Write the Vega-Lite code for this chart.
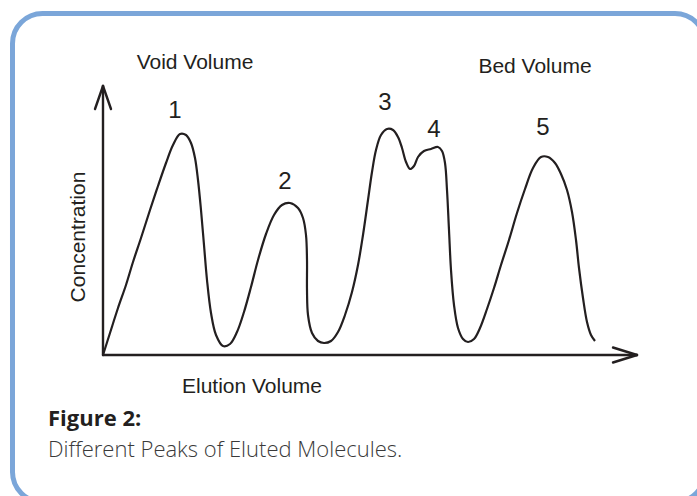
{
  "$schema": "https://vega.github.io/schema/vega-lite/v6.json",
  "width": 697,
  "height": 496,
  "padding": 0,
  "autosize": {"type": "none"},
  "background": "white",
  "config": {"view": {"stroke": null}},
  "datasets": {
    "curve": [
      {"i":0,"x":0,"y":0},{"i":1,"x":1.4,"y":4.4},{"i":2,"x":3.0,"y":9.4},{"i":3,"x":4.6,"y":14.0},
      {"i":4,"x":6.0,"y":18.6},{"i":5,"x":7.6,"y":23.4},{"i":6,"x":9.4,"y":29.0},{"i":7,"x":11.0,"y":33.8},
      {"i":8,"x":12.6,"y":38.4},{"i":9,"x":14.0,"y":42.0},{"i":10,"x":15.4,"y":44.2},{"i":11,"x":16.6,"y":44.0},
      {"i":12,"x":17.6,"y":42.4},{"i":13,"x":18.4,"y":39.4},{"i":14,"x":19.0,"y":35.0},{"i":15,"x":19.6,"y":29.0},
      {"i":16,"x":20.2,"y":22.0},{"i":17,"x":20.8,"y":15.0},{"i":18,"x":21.6,"y":8.4},{"i":19,"x":22.6,"y":4.0},
      {"i":20,"x":24.0,"y":1.8},{"i":21,"x":25.4,"y":2.2},{"i":22,"x":26.8,"y":4.6},{"i":23,"x":28.2,"y":8.6},
      {"i":24,"x":29.6,"y":13.6},{"i":25,"x":31.0,"y":19.0},{"i":26,"x":32.6,"y":24.2},{"i":27,"x":34.2,"y":28.0},
      {"i":28,"x":35.8,"y":30.0},{"i":29,"x":37.4,"y":30.4},{"i":30,"x":39.0,"y":29.4},{"i":31,"x":40.0,"y":27.4},
      {"i":32,"x":40.6,"y":24.0},{"i":33,"x":40.8,"y":19.0},{"i":34,"x":40.8,"y":13.0},{"i":35,"x":41.0,"y":8.0},
      {"i":36,"x":41.8,"y":4.4},{"i":37,"x":43.0,"y":2.8},{"i":38,"x":44.2,"y":2.4},{"i":39,"x":45.6,"y":2.8},
      {"i":40,"x":47.0,"y":4.6},{"i":41,"x":48.4,"y":8.0},{"i":42,"x":49.8,"y":12.6},{"i":43,"x":51.0,"y":18.0},
      {"i":44,"x":52.0,"y":24.0},{"i":45,"x":53.0,"y":31.0},{"i":46,"x":53.8,"y":36.6},{"i":47,"x":54.6,"y":41.0},
      {"i":48,"x":55.6,"y":44.0},{"i":49,"x":56.8,"y":45.2},{"i":50,"x":58.0,"y":45.0},{"i":51,"x":59.0,"y":43.6},
      {"i":52,"x":59.8,"y":41.4},{"i":53,"x":60.6,"y":38.6},{"i":54,"x":61.4,"y":37.2},{"i":55,"x":62.2,"y":37.8},
      {"i":56,"x":63.0,"y":39.6},{"i":57,"x":64.2,"y":40.8},{"i":58,"x":65.6,"y":41.2},{"i":59,"x":67.0,"y":41.6},
      {"i":60,"x":67.8,"y":40.8},{"i":61,"x":68.4,"y":38.4},{"i":62,"x":68.8,"y":33.0},{"i":63,"x":69.2,"y":25.0},
      {"i":64,"x":69.6,"y":17.0},{"i":65,"x":70.2,"y":10.0},{"i":66,"x":71.0,"y":5.4},{"i":67,"x":72.0,"y":3.2},
      {"i":68,"x":73.0,"y":2.6},{"i":69,"x":74.2,"y":3.2},{"i":70,"x":75.4,"y":5.4},{"i":71,"x":76.8,"y":9.2},
      {"i":72,"x":78.2,"y":13.4},{"i":73,"x":79.6,"y":18.0},{"i":74,"x":81.2,"y":23.0},{"i":75,"x":82.8,"y":28.4},
      {"i":76,"x":84.4,"y":33.2},{"i":77,"x":86.0,"y":37.4},{"i":78,"x":87.6,"y":39.6},{"i":79,"x":89.0,"y":39.6},
      {"i":80,"x":90.4,"y":38.4},{"i":81,"x":91.6,"y":36.2},{"i":82,"x":92.8,"y":33.0},{"i":83,"x":93.8,"y":28.6},
      {"i":84,"x":94.6,"y":23.0},{"i":85,"x":95.2,"y":17.4},{"i":86,"x":96.0,"y":11.4},{"i":87,"x":96.8,"y":6.6},
      {"i":88,"x":97.6,"y":4.0},{"i":89,"x":98.4,"y":2.8}
    ],
    "axes": [
      {"x":0,"y":0,"x2":0,"y2":53.8},
      {"x":-1.6,"y":49.2,"x2":0,"y2":53.8},
      {"x":1.6,"y":49.2,"x2":0,"y2":53.8},
      {"x":0,"y":0,"x2":106.8,"y2":0},
      {"x":102.0,"y":1.5,"x2":106.8,"y2":0},
      {"x":102.0,"y":-1.5,"x2":106.8,"y2":0}
    ],
    "peaks": [
      {"label":"1","x":14.4,"y":47.4},
      {"label":"2","x":36.4,"y":33.2},
      {"label":"3","x":56.4,"y":49.0},
      {"label":"4","x":66.2,"y":43.6},
      {"label":"5","x":88.0,"y":44.0}
    ],
    "markers": [
      {"label":"Void Volume","x":18.4,"y":57.2},
      {"label":"Bed Volume","x":86.4,"y":56.5},
      {"label":"Elution Volume","x":29.8,"y":-7.6}
    ]
  },
  "layer": [
    {
      "data": {"values": [{}]},
      "mark": {"type": "rect", "cornerRadius": 30, "fill": "transparent", "stroke": "#7ba6d9", "strokeWidth": 5},
      "encoding": {
        "x": {"datum": -18.1, "type": "quantitative", "scale": {"domain": [-20.6, 118.8], "nice": false, "zero": false}, "axis": null},
        "x2": {"datum": 120.4},
        "y": {"datum": 68.3, "type": "quantitative", "scale": {"domain": [-28.2, 71], "nice": false, "zero": false}, "axis": null},
        "y2": {"datum": -29.4}
      }
    },
    {
      "data": {"name": "axes"},
      "mark": {"type": "rule", "color": "#231f20", "strokeWidth": 2.4, "strokeCap": "round"},
      "encoding": {
        "x": {"field": "x", "type": "quantitative", "scale": {"domain": [-20.6, 118.8], "nice": false, "zero": false}, "axis": null},
        "x2": {"field": "x2"},
        "y": {"field": "y", "type": "quantitative", "scale": {"domain": [-28.2, 71], "nice": false, "zero": false}, "axis": null},
        "y2": {"field": "y2"}
      }
    },
    {
      "data": {"name": "curve"},
      "mark": {"type": "line", "interpolate": "catmull-rom", "color": "#231f20", "strokeWidth": 2.2},
      "encoding": {
        "x": {"field": "x", "type": "quantitative", "scale": {"domain": [-20.6, 118.8], "nice": false, "zero": false}, "axis": null},
        "y": {"field": "y", "type": "quantitative", "scale": {"domain": [-28.2, 71], "nice": false, "zero": false}, "axis": null},
        "order": {"field": "i", "type": "quantitative"}
      }
    },
    {
      "data": {"name": "peaks"},
      "mark": {"type": "text", "font": "Liberation Sans", "fontSize": 24, "color": "#231f20", "align": "center", "baseline": "alphabetic"},
      "encoding": {
        "x": {"field": "x", "type": "quantitative", "scale": {"domain": [-20.6, 118.8], "nice": false, "zero": false}, "axis": null},
        "y": {"field": "y", "type": "quantitative", "scale": {"domain": [-28.2, 71], "nice": false, "zero": false}, "axis": null},
        "text": {"field": "label"}
      }
    },
    {
      "data": {"name": "markers"},
      "mark": {"type": "text", "font": "Liberation Sans", "fontSize": 21, "color": "#231f20", "align": "center", "baseline": "alphabetic", "letterSpacing": -0.2},
      "encoding": {
        "x": {"field": "x", "type": "quantitative", "scale": {"domain": [-20.6, 118.8], "nice": false, "zero": false}, "axis": null},
        "y": {"field": "y", "type": "quantitative", "scale": {"domain": [-28.2, 71], "nice": false, "zero": false}, "axis": null},
        "text": {"field": "label"}
      }
    },
    {
      "data": {"values": [{"label": "Concentration", "x": -3.6, "y": 23.6}]},
      "mark": {"type": "text", "font": "Liberation Sans", "fontSize": 21, "color": "#231f20", "align": "center", "baseline": "alphabetic", "angle": 270, "letterSpacing": -0.2},
      "encoding": {
        "x": {"field": "x", "type": "quantitative", "scale": {"domain": [-20.6, 118.8], "nice": false, "zero": false}, "axis": null},
        "y": {"field": "y", "type": "quantitative", "scale": {"domain": [-28.2, 71], "nice": false, "zero": false}, "axis": null},
        "text": {"field": "label"}
      }
    },
    {
      "data": {"values": [{"label": "Figure 2:", "x": -11, "y": -14.1}]},
      "mark": {"type": "text", "font": "Open Sans", "fontSize": 22, "fontWeight": "bold", "color": "#231f20", "align": "left", "baseline": "alphabetic", "letterSpacing": 0.2},
      "encoding": {
        "x": {"field": "x", "type": "quantitative", "scale": {"domain": [-20.6, 118.8], "nice": false, "zero": false}, "axis": null},
        "y": {"field": "y", "type": "quantitative", "scale": {"domain": [-28.2, 71], "nice": false, "zero": false}, "axis": null},
        "text": {"field": "label"}
      }
    },
    {
      "data": {"values": [{"label": "Different Peaks of Eluted Molecules.", "x": -11, "y": -20.4}]},
      "mark": {"type": "text", "font": "Open Sans", "fontSize": 22, "fontWeight": 300, "color": "#3a3a3a", "align": "left", "baseline": "alphabetic", "letterSpacing": 0.6},
      "encoding": {
        "x": {"field": "x", "type": "quantitative", "scale": {"domain": [-20.6, 118.8], "nice": false, "zero": false}, "axis": null},
        "y": {"field": "y", "type": "quantitative", "scale": {"domain": [-28.2, 71], "nice": false, "zero": false}, "axis": null},
        "text": {"field": "label"}
      }
    }
  ]
}
